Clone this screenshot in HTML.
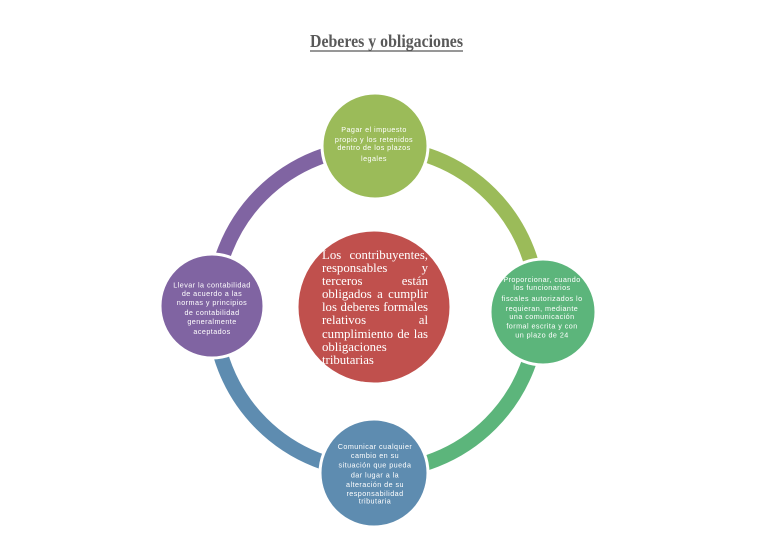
<!DOCTYPE html>
<html>
<head>
<meta charset="utf-8">
<style>
  html,body{margin:0;padding:0;background:#ffffff;}
  body{width:768px;height:544px;overflow:hidden;position:relative;}
  svg{display:block;position:absolute;left:0;top:0;}
  .s{font-family:"Liberation Sans",sans-serif;font-size:7.2px;fill:#ffffff;letter-spacing:0.45px;text-anchor:middle;}
  #ctr{position:absolute;left:322px;top:249px;width:106px;font-family:"Liberation Serif",serif;font-size:12.8px;line-height:13.1px;color:#ffffff;}
  #ctr div{white-space:nowrap;height:13.1px;}
  #ctr .j{text-align:justify;text-align-last:justify;white-space:normal;}
</style>
</head>
<body>
<svg width="768" height="544" viewBox="0 0 768 544" xmlns="http://www.w3.org/2000/svg">
  <rect width="768" height="544" fill="#ffffff"/>

  <!-- Title -->
  <text x="310" y="47" font-family="'Liberation Serif',serif" font-size="18" font-weight="bold" fill="#595959" textLength="153" lengthAdjust="spacingAndGlyphs">Deberes y obligaciones</text>
  <line x1="310" y1="51" x2="463" y2="51" stroke="#595959" stroke-width="1.2"/>

  <!-- Ring arcs -->
  <g fill="none" stroke-width="15">
    <path d="M376,147 A162,162 0 0 1 538,309" stroke="#9BBB59"/>
    <path d="M538,309 A162,162 0 0 1 376,471" stroke="#5CB57B"/>
    <path d="M376,471 A162,162 0 0 1 214,309" stroke="#5E8CB0"/>
    <path d="M214,309 A162,162 0 0 1 376,147" stroke="#8064A2"/>
  </g>

  <!-- Circles -->
  <g stroke="#ffffff" stroke-width="3">
    <circle cx="375" cy="146" r="53" fill="#9BBB59"/>
    <circle cx="543" cy="312" r="53" fill="#5CB57B"/>
    <circle cx="374" cy="473" r="54" fill="#5E8CB0"/>
    <circle cx="212" cy="306" r="52" fill="#8064A2"/>
    <circle cx="374" cy="307" r="77" fill="#C0504D"/>
  </g>

  <!-- Top text -->
  <text class="s" x="374" y="132">Pagar el impuesto</text>
  <text class="s" x="374" y="142">propio y los retenidos</text>
  <text class="s" x="374" y="150">dentro de los plazos</text>
  <text class="s" x="374" y="161">legales</text>

  <!-- Left text -->
  <text class="s" x="212" y="287.5">Llevar la contabilidad</text>
  <text class="s" x="212" y="296">de acuerdo a las</text>
  <text class="s" x="212" y="305">normas y principios</text>
  <text class="s" x="212" y="315">de contabilidad</text>
  <text class="s" x="212" y="324">generalmente</text>
  <text class="s" x="212" y="334">aceptados</text>

  <!-- Right text -->
  <text class="s" x="542" y="282">Proporcionar, cuando</text>
  <text class="s" x="542" y="290">los funcionarios</text>
  <text class="s" x="542" y="301">fiscales autorizados lo</text>
  <text class="s" x="542" y="311">requieran, mediante</text>
  <text class="s" x="542" y="319">una comunicación</text>
  <text class="s" x="542" y="328.5">formal escrita y con</text>
  <text class="s" x="542" y="337.5">un plazo de 24</text>

  <!-- Bottom text -->
  <text class="s" x="375" y="449">Comunicar cualquier</text>
  <text class="s" x="375" y="458">cambio en su</text>
  <text class="s" x="375" y="467.5">situación que pueda</text>
  <text class="s" x="375" y="477.5">dar lugar a la</text>
  <text class="s" x="375" y="487">alteración de su</text>
  <text class="s" x="375" y="496">responsabilidad</text>
  <text class="s" x="375" y="503.5">tributaria</text>
</svg>

<div id="ctr">
  <div class="j">Los contribuyentes,</div>
  <div class="j">responsables y</div>
  <div class="j">terceros están</div>
  <div class="j">obligados a cumplir</div>
  <div class="j">los deberes formales</div>
  <div class="j">relativos al</div>
  <div class="j">cumplimiento de las</div>
  <div>obligaciones</div>
  <div>tributarias</div>
</div>
</body>
</html>
